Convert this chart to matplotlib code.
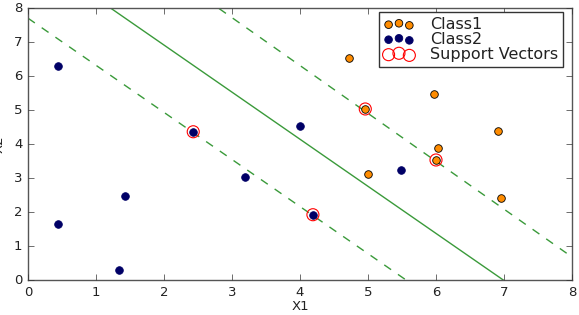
import numpy as np
import matplotlib
matplotlib.use("Agg")
import matplotlib.pyplot as plt

plt.style.use('classic')

# Data
class1_x = [4.72, 4.96, 5.97, 6.91, 6.03, 6.00, 5.00, 6.96]
class1_y = [6.53, 5.03, 5.47, 4.38, 3.88, 3.53, 3.12, 2.41]
class2_x = [0.44, 0.44, 1.43, 1.34, 2.43, 3.19, 4.00, 4.19, 5.49]
class2_y = [6.29, 1.65, 2.47, 0.29, 4.36, 3.03, 4.53, 1.92, 3.24]
sv_x = [2.43, 4.19, 4.96, 6.00]
sv_y = [4.36, 1.92, 5.03, 3.53]
line_slopes = [-1.385, -1.385, -1.408]      # decision, lower margin, upper margin
line_intercepts = [9.68, 7.70, 11.94]
line_styles = ['-', '--', '--']

fig = plt.figure(figsize=(5.79, 3.15), dpi=100, facecolor='white')
ax = fig.add_axes([28/579, 35/315, 544/579, 272/315])

xs = np.array([0, 8])
for m, b, ls in zip(line_slopes, line_intercepts, line_styles):
    if ls == '-':
        ax.plot(xs, m * xs + b, '-', color='#3a9a3a', lw=1.0)
    else:
        ax.plot(xs, m * xs + b, '--', color='#3a9a3a', lw=1.0, dashes=(6, 6))

ax.scatter(class1_x, class1_y, s=30, c='#ff8c00', edgecolors='black', linewidths=0.6,
           label='Class1', zorder=3)
ax.scatter(class2_x, class2_y, s=30, c='#000066', edgecolors='#000066', linewidths=0.6,
           label='Class2', zorder=3)
ax.scatter(sv_x, sv_y, s=75, facecolors='none', edgecolors='red', linewidths=0.8,
           label='Support Vectors', zorder=4)

ax.set_xlim(0, 8)
ax.set_ylim(0, 8)
ax.set_xticks(range(0, 9))
ax.set_yticks(range(0, 9))
ax.tick_params(labelsize=9.5, colors='#333333', labelcolor='#222222', length=4, pad=4)
for sp in ax.spines.values():
    sp.set_color('#555555')
    sp.set_linewidth(1.0)

ax.set_xlabel('X1', fontsize=9.5, color='#222222', labelpad=1)
ax.set_ylabel('X2', fontsize=9.5, color='#222222')
ax.yaxis.set_label_coords(-0.042, 0.5)

leg = ax.legend(loc='upper right', fontsize=11.5, scatterpoints=3,
                bbox_to_anchor=(0.9835, 0.985), borderaxespad=0,
                borderpad=0.3, labelspacing=0.0,
                handletextpad=1.0, handlelength=1.9, frameon=True, fancybox=False)
leg.get_frame().set_edgecolor('#333333')
for t in leg.get_texts():
    t.set_color('#222222')

fig.savefig('out.png', dpi=100, facecolor='white')
